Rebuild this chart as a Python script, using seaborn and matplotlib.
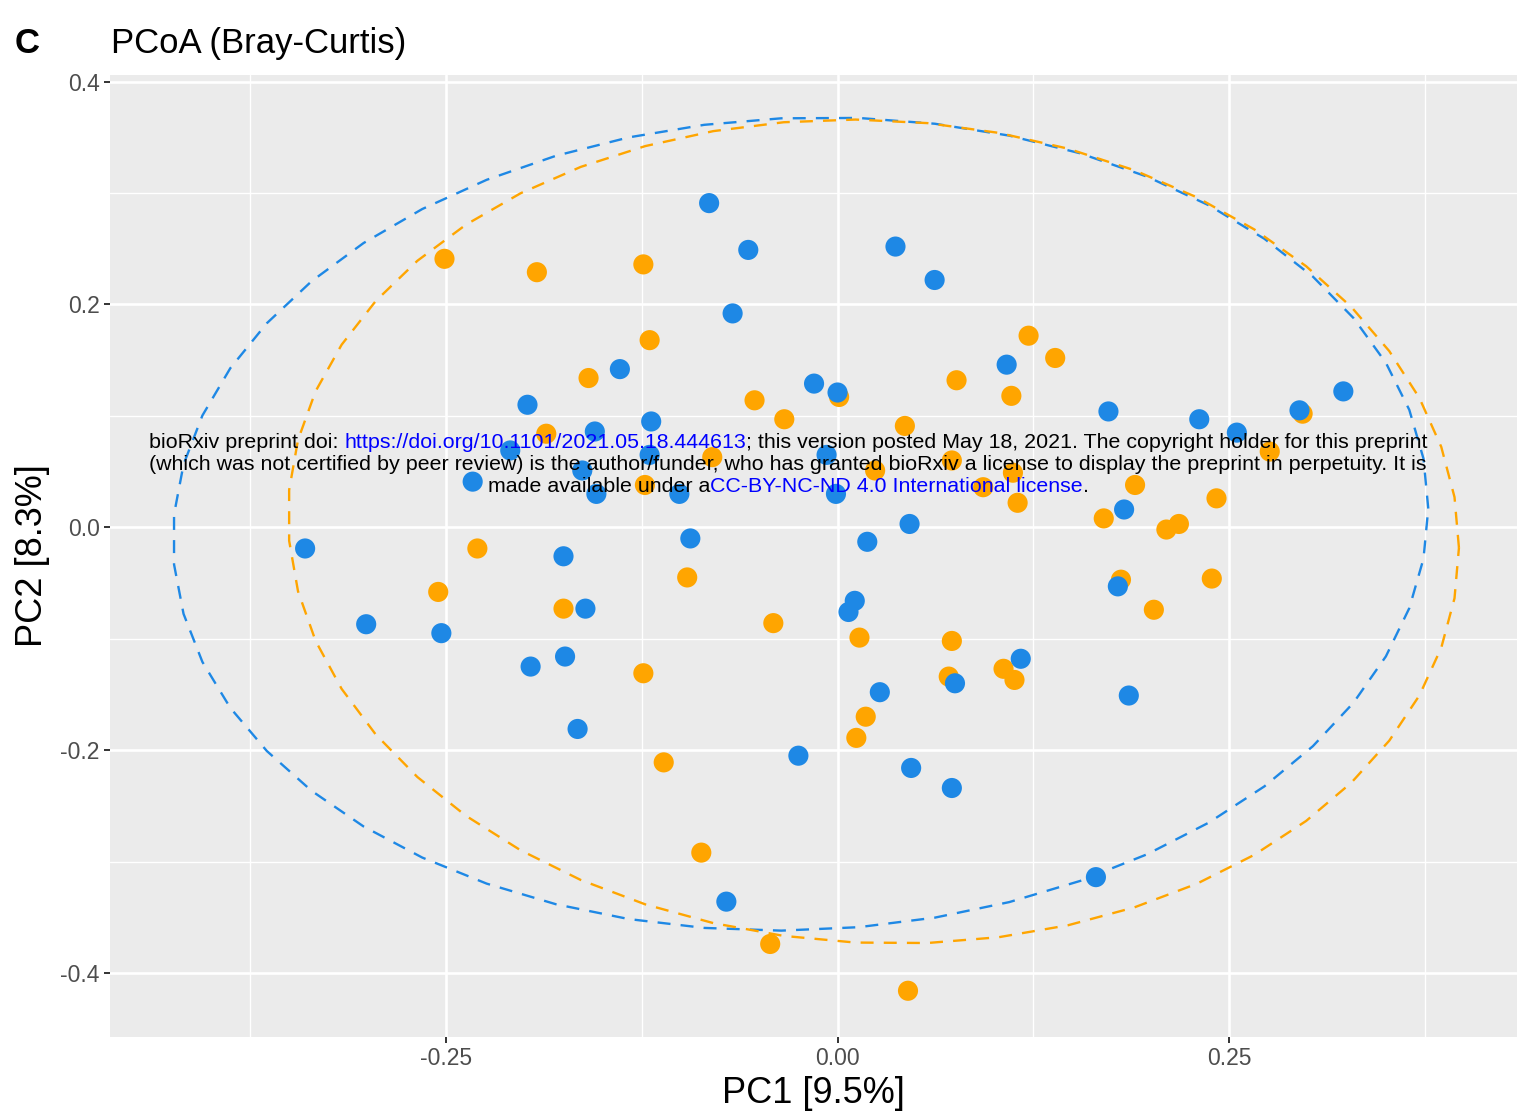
import numpy as np
import pandas as pd
import matplotlib
matplotlib.use("Agg")
import matplotlib.pyplot as plt
import seaborn as sns
from matplotlib.transforms import IdentityTransform

# PCoA (Bray-Curtis) sample coordinates per group
blue_pc1 = [-0.082, -0.057, 0.037, 0.062, -0.067, -0.139, -0.198, -0.015, 0.000, -0.119,
            -0.155, -0.209, -0.120, -0.163, -0.233, -0.154, -0.101, -0.007, -0.001, 0.108,
            0.173, 0.231, 0.255, 0.295, 0.323, 0.183, 0.046, 0.019, -0.094, -0.340,
            -0.175, -0.161, -0.301, -0.253, -0.196, -0.174, -0.166, 0.011, 0.007, 0.117,
            0.075, 0.027, -0.025, 0.047, 0.073, 0.165, -0.071, 0.179, 0.186]
blue_pc2 = [0.291, 0.249, 0.252, 0.222, 0.192, 0.142, 0.110, 0.129, 0.121, 0.095,
            0.086, 0.069, 0.065, 0.051, 0.041, 0.030, 0.030, 0.065, 0.030, 0.146,
            0.104, 0.097, 0.085, 0.105, 0.122, 0.016, 0.003, -0.013, -0.010, -0.019,
            -0.026, -0.073, -0.087, -0.095, -0.125, -0.116, -0.181, -0.066, -0.076, -0.118,
            -0.140, -0.148, -0.205, -0.216, -0.234, -0.314, -0.336, -0.053, -0.151]
orange_pc1 = [-0.251, -0.192, -0.124, -0.120, -0.159, -0.186, 0.001, -0.053, -0.034, 0.043,
              0.076, 0.122, 0.139, 0.111, -0.080, 0.024, 0.073, 0.112, -0.123, 0.093,
              0.115, 0.170, 0.297, 0.276, 0.190, 0.242, 0.210, 0.218, -0.230, -0.255,
              -0.175, -0.096, -0.041, 0.014, 0.073, 0.106, 0.113, 0.071, -0.124, 0.018,
              0.012, -0.111, -0.087, -0.043, 0.045, 0.181, 0.239, 0.202]
orange_pc2 = [0.241, 0.229, 0.236, 0.168, 0.134, 0.084, 0.117, 0.114, 0.097, 0.091,
              0.132, 0.172, 0.152, 0.118, 0.063, 0.051, 0.060, 0.049, 0.038, 0.036,
              0.022, 0.008, 0.102, 0.068, 0.038, 0.026, -0.002, 0.003, -0.019, -0.058,
              -0.073, -0.045, -0.086, -0.099, -0.102, -0.127, -0.137, -0.134, -0.131, -0.170,
              -0.189, -0.211, -0.292, -0.374, -0.416, -0.047, -0.046, -0.074]

group_names = ["Group 2", "Group 1"]
group_colors = {"Group 1": "#1E88E5", "Group 2": "#FFA500"}

x_ticks = [-0.25, 0.0, 0.25]
x_tick_labels = ["-0.25", "0.00", "0.25"]
x_minor = [-0.375, -0.125, 0.125, 0.375]
y_ticks = [-0.4, -0.2, 0.0, 0.2, 0.4]
y_tick_labels = ["-0.4", "-0.2", "0.0", "0.2", "0.4"]
y_minor = [-0.3, -0.1, 0.1, 0.3]

df = pd.concat([
    pd.DataFrame({"PC1": orange_pc1, "PC2": orange_pc2, "group": "Group 2"}),
    pd.DataFrame({"PC1": blue_pc1, "PC2": blue_pc2, "group": "Group 1"}),
], ignore_index=True)


def norm_ellipse(x, y, level=0.95, segments=51):
    """Normal-theory confidence ellipse (F-scaled sample covariance)."""
    xy = np.column_stack([x, y]).astype(float)
    n = len(xy)
    center = xy.mean(axis=0)
    shape = np.cov(xy, rowvar=False)
    d2 = n - 1
    fq = (d2 / 2.0) * ((1 - level) ** (-2.0 / d2) - 1.0)  # F(2, d2) quantile
    radius = np.sqrt(2 * fq)
    ang = np.arange(segments + 1) * 2 * np.pi / segments
    circle = np.column_stack([np.cos(ang), np.sin(ang)])
    chol_upper = np.linalg.cholesky(shape).T
    return center + radius * (circle @ chol_upper)


sns.set_theme(style="darkgrid", rc={
    "axes.facecolor": "#EBEBEB",
    "grid.color": "white",
    "axes.edgecolor": "none",
    "axes.unicode_minus": False,
    "text.color": "black",
})
plt.rcParams["font.family"] = ["Liberation Sans", "DejaVu Sans"]

fig = plt.figure(figsize=(15.17, 11.18), dpi=100)
ax = fig.add_axes([110 / 1517, 1 - 1037 / 1118, 1 - 110 / 1517, (1037 - 75) / 1118])

# 95% confidence ellipses per group
for name in ["Group 1", "Group 2"]:
    sub = df[df["group"] == name]
    ell = norm_ellipse(sub["PC1"].values, sub["PC2"].values)
    ax.plot(ell[:, 0], ell[:, 1], color=group_colors[name], lw=1.7,
            linestyle=(0, (5.5, 4.3)), zorder=2)

sns.scatterplot(data=df, x="PC1", y="PC2", hue="group", palette=group_colors,
                hue_order=group_names, s=210, linewidth=0, alpha=1,
                legend=False, ax=ax, zorder=3)

ax.set_xlim(-0.4646, 0.4339)
ax.set_ylim(-0.4575, 0.406)
ax.set_xticks(x_ticks)
ax.set_xticklabels(x_tick_labels)
ax.set_yticks(y_ticks)
ax.set_yticklabels(y_tick_labels)
ax.set_xticks(x_minor, minor=True)
ax.set_yticks(y_minor, minor=True)
ax.grid(which="major", color="white", lw=1.9)
ax.grid(which="minor", color="white", lw=1.0)
ax.set_axisbelow(True)
ax.tick_params(which="major", length=4.5, width=1.4, color="#333333",
               labelsize=16.5, labelcolor="#4D4D4D", pad=3, bottom=True, left=True)
ax.tick_params(which="minor", length=0)
for sp in ax.spines.values():
    sp.set_visible(False)

ax.set_xlabel("PC1 [9.5%]", fontsize=26, color="black", labelpad=4)
ax.set_ylabel("PC2 [8.3%]", fontsize=26, color="black", labelpad=7)

fig.text(15 / 1517, 1 - 53 / 1118, "C", fontsize=25, fontweight="bold",
         color="black", va="baseline")
fig.text(111 / 1517, 1 - 53 / 1118, "PCoA (Bray-Curtis)", fontsize=25,
         color="black", va="baseline")

# preprint notice overlaid on the panel
wm_size = 15.4
renderer = fig.canvas.get_renderer()


def text_width(s):
    t = fig.text(0, 0, s, fontsize=wm_size, transform=IdentityTransform())
    w = t.get_window_extent(renderer).width
    t.remove()
    return w


def mixed_line(parts, center_x, baseline_y):
    full = "".join(s for s, _ in parts)
    x0 = center_x - text_width(full) / 2
    ref = text_width("x")
    prefix = ""
    for s, c in parts:
        off = text_width(prefix + "x") - ref if prefix else 0.0
        fig.text(x0 + off, baseline_y, s, color=c, fontsize=wm_size, ha="left",
                 va="baseline", transform=IdentityTransform(), zorder=10)
        prefix += s


H = 1118
link = "#0000FF"
mixed_line([("bioRxiv preprint doi: ", "black"),
            ("https://doi.org/10.1101/2021.05.18.444613", link),
            ("; this version posted May 18, 2021. The copyright holder for this preprint", "black")],
           788, H - 448)
mixed_line([("(which was not certified by peer review) is the author/funder, who has granted "
             "bioRxiv a license to display the preprint in perpetuity. It is", "black")],
           788, H - 470)
mixed_line([("made available under a", "black"),
            ("CC-BY-NC-ND 4.0 International license", link),
            (".", "black")],
           788, H - 492)

fig.savefig("out.png", dpi=100)
